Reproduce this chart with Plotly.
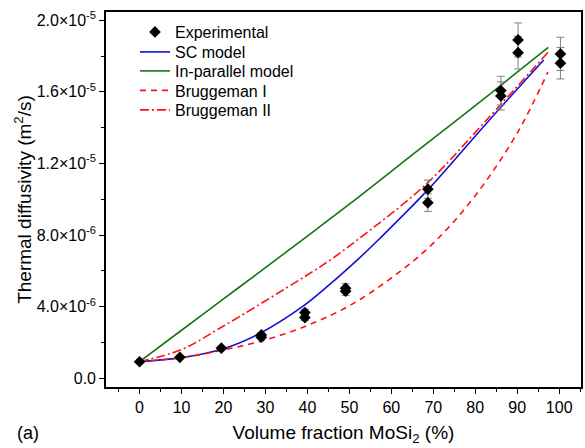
import plotly.graph_objects as go

# Experimental data (thermal diffusivity in units of 1e-6 m^2/s)
exp_x = [0, 9.6, 19.5, 29, 29, 39.4, 39.4, 49.1, 49.1, 68.7, 68.7, 86.1, 86.1, 90.2, 90.2, 100.3, 100.3]
exp_y = [0.92, 1.17, 1.68, 2.29, 2.42, 3.67, 3.39, 5.03, 4.86, 10.56, 9.81, 16.07, 15.77, 18.9, 18.19, 18.12, 17.6]
exp_err = [0.05, 0.06, 0.08, 0.11, 0.12, 0.18, 0.17, 0.25, 0.24, 0.51, 0.49, 0.8, 0.79, 0.95, 0.91, 0.93, 0.88]

sc_x = [0, 10, 20, 28.6, 38.8, 45.1, 52.3, 57, 61.7, 68.8, 82.7, 96.3]
sc_y = [0.93, 1.15, 1.65, 2.5, 4.0, 5.2, 6.7, 7.75, 8.85, 10.55, 14.25, 17.78]

par_x = [0, 10, 20, 30, 40, 50, 60, 70, 80, 90, 97.4]
par_y = [0.93, 2.68, 4.43, 6.18, 7.94, 9.72, 11.56, 13.4, 15.23, 17.1, 18.49]

br1_x = [0, 10, 20, 30, 40, 50, 60, 70, 80, 90, 97.3]
br1_y = [0.93, 1.15, 1.58, 2.14, 2.95, 4.05, 5.6, 7.55, 10.2, 13.7, 17.1]

br2_x = [0, 10, 19.1, 34.9, 45.1, 52.3, 68.1, 82.7, 97.3]
br2_y = [0.93, 1.6, 2.79, 5.03, 6.55, 7.8, 10.8, 14.43, 18.2]

y_tickvals = [0, 4, 8, 12, 16, 20]
y_ticktext = ["0.0", "4.0×10<sup>-6</sup>", "8.0×10<sup>-6</sup>", "1.2×10<sup>-5</sup>",
              "1.6×10<sup>-5</sup>", "2.0×10<sup>-5</sup>"]
x_tickvals = [0, 10, 20, 30, 40, 50, 60, 70, 80, 90, 100]

FONT = "Liberation Sans, Arial, sans-serif"

fig = go.Figure()
fig.add_trace(go.Scatter(x=sc_x, y=sc_y, mode="lines", name="SC model", legend="legend2",
                         line=dict(color="#1010d8", width=1.6, shape="spline")))
fig.add_trace(go.Scatter(x=par_x, y=par_y, mode="lines", name="In-parallel model", legend="legend3",
                         line=dict(color="#127512", width=1.6, shape="spline")))
fig.add_trace(go.Scatter(x=br1_x, y=br1_y, mode="lines", name="Bruggeman I", legend="legend4",
                         line=dict(color="#ff1010", width=1.6, dash="6px,5px", shape="spline")))
fig.add_trace(go.Scatter(x=br2_x, y=br2_y, mode="lines", name="Bruggeman II", legend="legend5",
                         line=dict(color="#ff1010", width=1.6, dash="9px,3px,2px,3px", shape="spline")))
fig.add_trace(go.Scatter(x=exp_x, y=exp_y, mode="markers", name="Experimental", legend="legend",
                         marker=dict(symbol="diamond", size=9, color="black"),
                         error_y=dict(type="data", array=exp_err, visible=True,
                                      color="#808080", thickness=1, width=4)))

axis_common = dict(showline=True, linecolor="black", linewidth=1.6, mirror=True,
                   ticks="outside", ticklen=5, tickwidth=1, tickcolor="black",
                   showgrid=False, zeroline=False,
                   tickfont=dict(family=FONT, size=16, color="black"))

fig.update_xaxes(range=[-8, 105.2], tickvals=x_tickvals,
                 minor=dict(dtick=5, tick0=0, ticks="outside", ticklen=3, tickcolor="black"),
                 title=dict(text="Volume fraction MoSi<sub>2</sub> (%)",
                            font=dict(family=FONT, size=19, color="black"), standoff=11),
                 **axis_common)
fig.update_yaxes(range=[-0.49, 20.46], tickvals=y_tickvals, ticktext=y_ticktext,
                 minor=dict(dtick=2, tick0=0, ticks="outside", ticklen=3, tickcolor="black"),
                 title=dict(text="Thermal diffusivity (m<sup>2</sup>/s)",
                            font=dict(family=FONT, size=19, color="black"), standoff=0),
                 **axis_common)

fig.add_annotation(text="(a)", xref="paper", yref="paper", x=-0.191, y=-0.1227,
                   xanchor="left", yanchor="middle", showarrow=False,
                   font=dict(family=FONT, size=18, color="black"))

leg_common = dict(x=0.061, xanchor="left", yanchor="middle", bgcolor="rgba(0,0,0,0)",
                  font=dict(family=FONT, size=16, color="black"), itemwidth=30)
fig.update_layout(
    width=585, height=448,
    margin=dict(l=106, r=2, t=12, b=61),
    paper_bgcolor="white", plot_bgcolor="white",
    font=dict(family=FONT, size=16, color="black"),
    showlegend=True,
    legend=dict(y=0.9467, **leg_common),
    legend2=dict(y=0.8933, **leg_common),
    legend3=dict(y=0.8427, **leg_common),
    legend4=dict(y=0.7907, **leg_common),
    legend5=dict(y=0.7387, **leg_common),
)

fig.write_html("out.html", config={"displayModeBar": False},
               post_script="document.body.style.margin='0';document.body.style.padding='0';")
